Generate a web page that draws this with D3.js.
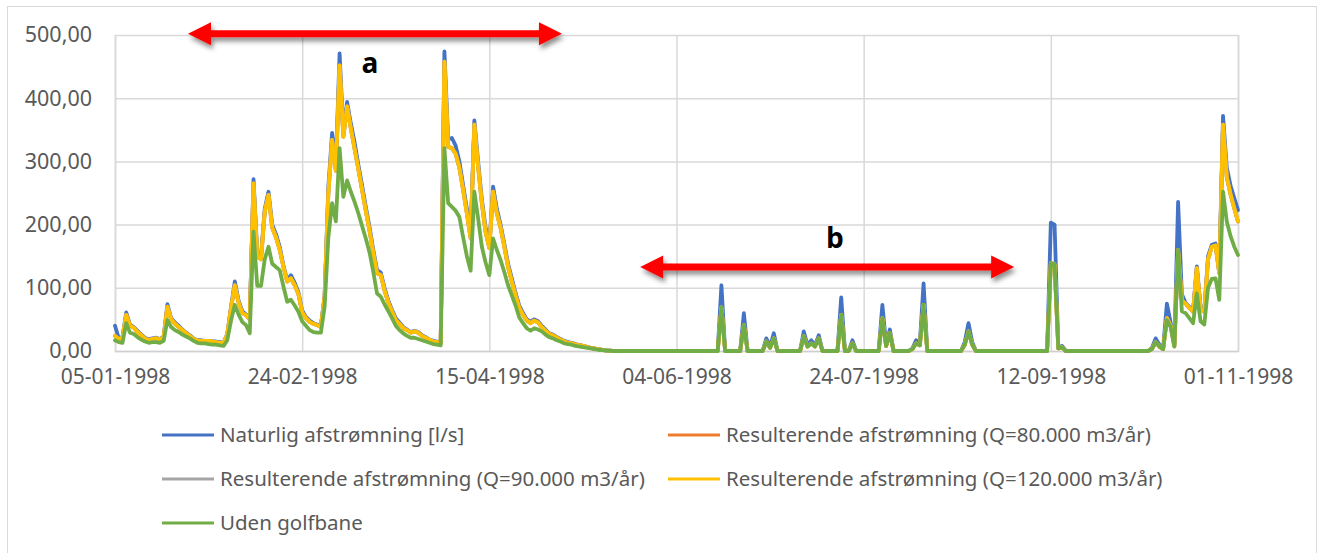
<!DOCTYPE html>
<html>
<head>
<meta charset="utf-8">
<script src="https://cdn.jsdelivr.net/npm/d3@7"></script>
<style>
  body { margin: 0; background: #fff; }
  svg { display: block; }
</style>
</head>
<body>
<svg id="chart"></svg>
<script>
// day offsets counted from 05-01-1998
const startDay = "05-01-1998";
const days = [
  0,1,2,3,4,5,6,7,8,9,10,11,12,13,14,15,16,17,18,19,20,21,22,23,24,25,26,27,28,29,
  30,31,32,33,34,35,36,37,38,39,40,41,42,43,44,45,46,47,48,49,50,51,52,53,54,55,56,57,58,59,
  60,61,62,63,64,65,66,67,68,69,70,71,72,73,74,75,76,77,78,79,80,81,82,83,84,85,86,87,88,89,
  90,91,92,93,94,95,96,97,98,99,100,101,102,103,104,105,106,107,108,109,110,111,112,113,114,115,116,117,118,119,
  120,121,122,123,125,127,129,131,133,
  161,162,163,167,168,169,173,174,175,176,177,183,184,185,186,187,188,189,
  193,194,195,196,197,198,204,205,206,207,208,212,213,214,215,216,217,226,227,228,229,230,
  249,250,251,252,253,254,276,277,278,279,280,281,282,283,284,285,286,287,288,289,290,
  291,292,293,294,295,296,297,298,299,300
];

const naturlig = [
  40,20,22,61,42,38,32,26,21,18,20,21,19,23,74,52,45,40,34,29,25,20,17,17,16,16,15,15,14,13,
  27,70,110,80,63,58,52,272,155,150,225,252,200,185,165,135,112,120,108,93,64,54,48,44,42,40,88,260,345,295,
  471,345,394,360,330,295,262,228,196,160,128,124,100,80,65,52,45,38,34,30,32,30,25,22,18,16,15,13,474,335,
  337,325,300,262,225,185,365,300,240,195,168,260,225,200,170,138,115,92,72,60,50,46,50,47,40,34,28,26,22,19,
  16,14,13,11,8,5,3,1,0,
  0,104,0,0,60,0,0,20,7,28,0,0,31,9,17,9,25,0,
  0,85,0,0,17,0,0,73,10,34,0,0,4,17,12,107,0,0,14,44,14,0,
  0,203,200,5,8,0,0,5,20,10,5,75,45,11,236,90,76,70,64,134,70,
  64,150,168,170,125,372,290,262,242,223
];

const q80 = [
  24,19,21,57,40,37,30,25,20,17,19,20,18,22,70,50,43,38,33,28,24,19,17,16,16,16,15,14,13,13,
  26,68,104,77,60,57,50,265,150,145,220,247,195,180,160,133,110,115,104,90,61,52,46,43,41,38,86,250,334,285,
  452,339,387,352,320,288,255,222,190,155,123,120,96,77,62,49,43,36,33,29,31,29,24,21,18,15,14,12,458,323,
  321,312,290,255,218,178,358,292,234,188,163,252,218,195,165,133,110,88,68,57,48,44,48,45,38,32,27,25,21,18,
  15,13,12,10,8,5,3,1,0,
  0,69,0,0,41,0,0,15,5,20,0,0,23,7,12,7,20,0,
  0,57,0,0,12,0,0,52,8,28,0,0,3,12,9,73,0,0,10,31,10,0,
  0,139,137,4,6,0,0,3,14,7,3,52,40,8,160,80,75,68,62,131,66,
  62,145,165,167,123,358,275,248,226,205
];

const q90 = [
  24,19,21,57,40,37,30,25,20,17,19,20,18,22,70,50,43,38,33,28,24,19,17,16,16,16,15,14,13,13,
  26,68,104,77,60,57,50,265,150,145,220,247,195,180,160,133,110,115,104,90,61,52,46,43,41,38,86,250,334,285,
  452,339,387,352,320,288,255,222,190,155,123,120,96,77,62,49,43,36,33,29,31,29,24,21,18,15,14,12,458,323,
  321,312,290,255,218,178,358,292,234,188,163,252,218,195,165,133,110,88,68,57,48,44,48,45,38,32,27,25,21,18,
  15,13,12,10,8,5,3,1,0,
  0,69,0,0,41,0,0,15,5,20,0,0,23,7,12,7,20,0,
  0,57,0,0,12,0,0,52,8,28,0,0,3,12,9,73,0,0,10,31,10,0,
  0,139,137,4,6,0,0,3,14,7,3,52,40,8,160,80,75,68,62,131,66,
  62,145,165,167,123,358,275,248,226,205
];

const q120 = [
  24,19,21,57,40,37,30,25,20,17,19,20,18,22,70,50,43,38,33,28,24,19,17,16,16,16,15,14,13,13,
  26,68,104,77,60,57,50,265,150,145,220,247,195,180,160,133,110,115,104,90,61,52,46,43,41,38,86,250,334,285,
  452,339,387,352,320,288,255,222,190,155,123,120,96,77,62,49,43,36,33,29,31,29,24,21,18,15,14,12,458,323,
  321,312,290,255,218,178,358,292,234,188,163,252,218,195,165,133,110,88,68,57,48,44,48,45,38,32,27,25,21,18,
  15,13,12,10,8,5,3,1,0,
  0,69,0,0,41,0,0,15,5,20,0,0,23,7,12,7,20,0,
  0,57,0,0,12,0,0,52,8,28,0,0,3,12,9,73,0,0,10,31,10,0,
  0,139,137,4,6,0,0,3,14,7,3,52,40,8,160,80,75,68,62,131,66,
  62,145,165,167,123,358,275,248,226,205
];

const udenGolfbane = [
  17,14,13,44,29,27,22,18,15,13,14,14,13,16,49,38,33,30,26,23,20,16,13,12,12,11,10,10,9,8,
  17,48,73,58,46,41,28,189,103,103,145,165,138,133,128,102,78,81,72,62,47,40,33,30,29,29,70,180,234,205,
  321,244,270,252,236,218,198,178,156,125,91,86,74,63,52,40,33,28,24,21,21,19,17,15,13,11,10,9,321,234,
  228,222,212,180,150,127,252,210,165,140,120,178,160,144,125,104,88,72,53,44,36,32,36,34,31,26,22,20,17,15,
  12,11,10,8,6,4,2,1,0,
  0,69,0,0,41,0,0,15,5,20,0,0,23,7,12,7,20,0,
  0,57,0,0,12,0,0,52,8,28,0,0,3,12,9,73,0,0,10,31,10,0,
  0,139,137,4,6,0,0,3,14,7,3,49,38,7,160,63,60,52,44,91,47,
  42,100,114,115,81,252,205,182,165,152
];

const seriesNames = [
  "Naturlig afstrømning [l/s]",
  "Resulterende afstrømning (Q=80.000 m3/år)",
  "Resulterende afstrømning (Q=90.000 m3/år)",
  "Resulterende afstrømning (Q=120.000 m3/år)",
  "Uden golfbane"
];
const seriesValues = [naturlig, q80, q90, q120, udenGolfbane];
const seriesColors = ["#4472C4", "#ED7D31", "#A5A5A5", "#FFC000", "#70AD47"];

const tickDates = ["05-01-1998", "24-02-1998", "15-04-1998", "04-06-1998", "24-07-1998", "12-09-1998", "01-11-1998"];
const yTicks = [0, 100, 200, 300, 400, 500];

// annotations: [label, from day, to day, arrow level, label day, label level]
const arrowSpans = [
  ["a", 19.5, 119.4, 502, 68.1, 440],
  ["b", 140.3, 240.2, 133, 192.3, 163]
];

const width = 1321, height = 553;
const margin = { top: 35, right: 83, bottom: 202, left: 115 };

const parse = d3.utcParse("%d-%m-%Y");
const t0 = parse(startDay);
const toDate = d => new Date(t0.getTime() + d * 864e5);

const svg = d3.select("#chart").attr("width", width).attr("height", height);

const x = d3.scaleUtc()
  .domain([parse(tickDates[0]), parse(tickDates[tickDates.length - 1])])
  .range([margin.left, width - margin.right]);

const y = d3.scaleLinear()
  .domain([0, 500])
  .range([height - margin.bottom, margin.top]);

const locale = d3.formatLocale({ decimal: ",", thousands: ".", grouping: [3], currency: ["", ""] });
const fmt = locale.format(".2f");

// chart frame
svg.append("rect")
  .attr("x", 7.5).attr("y", 6.5)
  .attr("width", 1309).attr("height", 600)
  .attr("fill", "#fff")
  .attr("stroke", "#d9d9d9");

const defs = svg.append("defs");
const shadow = defs.append("filter").attr("id", "shadow")
  .attr("x", "-10%").attr("y", "-100%").attr("width", "120%").attr("height", "300%");
shadow.append("feDropShadow")
  .attr("dx", 2).attr("dy", 4).attr("stdDeviation", 2.5)
  .attr("flood-color", "#000").attr("flood-opacity", 0.45);

// gridlines
svg.append("g")
  .attr("transform", `translate(${margin.left},0)`)
  .call(d3.axisLeft(y).tickValues(yTicks).tickSize(-(width - margin.left - margin.right)).tickFormat(""))
  .call(g => g.select(".domain").remove())
  .call(g => g.selectAll(".tick line").attr("stroke", "#d9d9d9").attr("stroke-width", 1.5));

svg.append("g")
  .attr("transform", `translate(0,${height - margin.bottom})`)
  .call(d3.axisBottom(x).tickValues(tickDates.map(parse)).tickSize(-(height - margin.top - margin.bottom)).tickFormat(""))
  .call(g => g.select(".domain").attr("stroke", "#d0d0d0").attr("stroke-width", 1.5))
  .call(g => g.selectAll(".tick line").attr("stroke", "#d9d9d9").attr("stroke-width", 1.5));

// axis labels
const yAxis = svg.append("g")
  .attr("transform", `translate(${margin.left},0)`)
  .call(d3.axisLeft(y).tickValues(yTicks).tickSize(0).tickPadding(23).tickFormat(fmt))
  .call(g => g.select(".domain").remove());
yAxis.selectAll("text")
  .attr("fill", "#595959")
  .style("font", "21.5px 'Noto Sans', sans-serif");

const xAxis = svg.append("g")
  .attr("transform", `translate(0,${height - margin.bottom})`)
  .call(d3.axisBottom(x).tickValues(tickDates.map(parse)).tickSize(0).tickPadding(18).tickFormat(d3.utcFormat("%d-%m-%Y")))
  .call(g => g.select(".domain").remove());
xAxis.selectAll("text")
  .attr("fill", "#595959")
  .style("font", "21px 'Noto Sans', sans-serif");

// series lines
const line = d3.line()
  .x((d, i) => x(toDate(days[i])))
  .y(d => y(d));

svg.append("g")
  .selectAll("path")
  .data(seriesValues)
  .join("path")
  .attr("d", d => line(d))
  .attr("fill", "none")
  .attr("stroke", (d, i) => seriesColors[i])
  .attr("stroke-width", 3.8)
  .attr("stroke-linejoin", "round")
  .attr("stroke-linecap", "round");

// annotation arrows
const arrows = svg.append("g").attr("filter", "url(#shadow)");
arrowSpans.forEach(([label, from, to, level]) => {
  const x1 = x(toDate(from)), x2 = x(toDate(to)), yy = y(level);
  const head = 23, half = 11.5, shaft = 3.5;
  arrows.append("path")
    .attr("fill", "#ff0000")
    .attr("d", `M${x1},${yy} L${x1 + head},${yy - half} L${x1 + head},${yy - shaft} L${x2 - head},${yy - shaft}
      L${x2 - head},${yy - half} L${x2},${yy} L${x2 - head},${yy + half} L${x2 - head},${yy + shaft}
      L${x1 + head},${yy + shaft} L${x1 + head},${yy + half} Z`);
});

svg.append("g")
  .selectAll("text")
  .data(arrowSpans)
  .join("text")
  .attr("x", d => x(toDate(d[4])))
  .attr("y", d => y(d[5]))
  .attr("text-anchor", "middle")
  .attr("fill", "#000")
  .style("font", "bold 28px 'Open Sans', sans-serif")
  .text(d => d[0]);

// legend
const legendCols = [162, 668];
const legendRows = [435, 479, 523];
const legend = svg.append("g")
  .selectAll("g")
  .data(seriesNames)
  .join("g")
  .attr("transform", (d, i) => `translate(${legendCols[i % 2]},${legendRows[Math.floor(i / 2)]})`);

legend.append("line")
  .attr("x1", 0).attr("x2", 52)
  .attr("stroke", (d, i) => seriesColors[i])
  .attr("stroke-width", 3);

legend.append("text")
  .attr("x", 58)
  .attr("dy", "0.35em")
  .attr("fill", "#595959")
  .style("font", "20.5px 'Noto Sans', sans-serif")
  .text(d => d);
</script>
</body>
</html>
